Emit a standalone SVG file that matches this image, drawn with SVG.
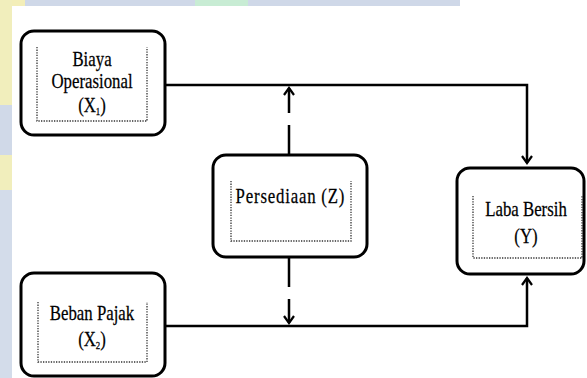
<svg xmlns="http://www.w3.org/2000/svg" width="587" height="378" viewBox="0 0 587 378">
  <style>
    .box { fill: #ffffff; stroke: #000000; stroke-width: 3; }
    .dot { fill: none; stroke: #333333; stroke-width: 1.3; stroke-dasharray: 1.3 1.3; }
    .lbl { font-family: 'Liberation Serif', 'DejaVu Serif', serif; font-size: 21px; fill: #000000; stroke: #000000; stroke-width: 0.25; text-anchor: middle; }
    .sub { font-size: 11px; }
    .conn { fill: none; stroke: #000000; stroke-width: 2.5; }
    .dash { stroke-dasharray: 30 12; }
  </style>
  <defs>
    <marker id="arr" viewBox="0 0 12 12" refX="9" refY="6" markerWidth="12" markerHeight="12" markerUnits="userSpaceOnUse" orient="auto">
      <path d="M2,1 L9,6 L2,11" fill="none" stroke="#000000" stroke-width="2.2"/>
    </marker>
  </defs>

  <g id="background">
    <rect x="0" y="0" width="587" height="378" fill="#ffffff"/>
    <rect x="0" y="0" width="460" height="6" fill="#cfd8e8"/>
    <rect x="0" y="0" width="25" height="6" fill="#f3eeb8"/>
    <rect x="195" y="0" width="53" height="6" fill="#c8ecd4"/>
    <rect x="0" y="0" width="12" height="378" fill="#d3dcea"/>
    <rect x="0" y="0" width="12" height="190" fill="#f1eebc"/>
    <rect x="0" y="105" width="12" height="50" fill="#d0d9e8"/>
  </g>

  <g id="connectors">
    <path class="conn" d="M165,85 H527 V163" marker-end="url(#arr)"/>
    <path class="conn" d="M165,326 H527 V278" marker-end="url(#arr)"/>
    <path class="conn dash" d="M289,155 V88" marker-end="url(#arr)"/>
    <path class="conn dash" d="M289,257 V323" marker-end="url(#arr)"/>
  </g>

  <g id="node-biaya">
    <rect class="box" x="21" y="31" width="144" height="104" rx="13"/>
    <path class="dot" d="M37,47 V121 H147 V47"/>
    <text class="lbl" transform="translate(92,66) scale(0.8,1)">Biaya</text>
    <text class="lbl" transform="translate(92,88) scale(0.8,1)">Operasional</text>
    <text class="lbl" transform="translate(92,112) scale(0.8,1)">(X<tspan class="sub" dy="3">1</tspan><tspan dy="-3">)</tspan></text>
  </g>

  <g id="node-persediaan">
    <rect class="box" x="213" y="155" width="154" height="102" rx="13"/>
    <path class="dot" d="M231,181 V241 H351 V181"/>
    <text class="lbl" transform="translate(290,203) scale(0.8,1)" textLength="136" lengthAdjust="spacing">Persediaan (Z)</text>
  </g>

  <g id="node-laba">
    <rect class="box" x="457" y="168" width="127" height="106" rx="13"/>
    <path class="dot" d="M473,196 V258 H582 V196"/>
    <text class="lbl" transform="translate(526,216) scale(0.8,1)">Laba Bersih</text>
    <text class="lbl" transform="translate(526,243) scale(0.8,1)">(Y)</text>
  </g>

  <g id="node-beban">
    <rect class="box" x="21" y="273" width="144" height="103" rx="13"/>
    <path class="dot" d="M38,302 V362 H147 V302"/>
    <text class="lbl" transform="translate(92,320) scale(0.8,1)">Beban Pajak</text>
    <text class="lbl" transform="translate(92,346) scale(0.8,1)">(X<tspan class="sub" dy="3">2</tspan><tspan dy="-3">)</tspan></text>
  </g>
</svg>
